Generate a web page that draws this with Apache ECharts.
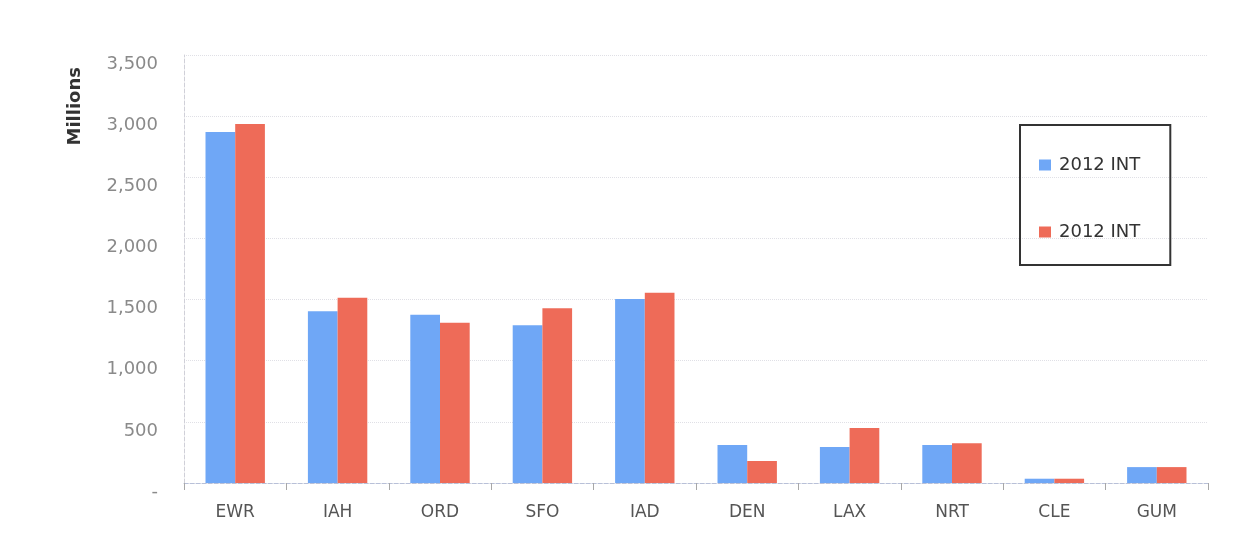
<!DOCTYPE html>
<html>
<head>
<meta charset="utf-8">
<script src="https://cdn.jsdelivr.net/npm/echarts@6/dist/echarts.min.js"></script>
<style>
  html, body { margin: 0; padding: 0; background: #ffffff; }
  #chart { width: 1254px; height: 546px; }
</style>
</head>
<body>
<div id="chart"></div>
<script>
// Airports on the category axis
const airports = ['EWR', 'IAH', 'ORD', 'SFO', 'IAD', 'DEN', 'LAX', 'NRT', 'CLE', 'GUM'];

// Values in millions
const seriesA = [2870, 1405, 1375, 1290, 1505, 310, 295, 310, 35, 130];
const seriesB = [2935, 1515, 1310, 1430, 1555, 180, 450, 325, 35, 130];

// Legend text (both series carry the same label)
const legendLabels = ['2012 INT', '2012 INT'];

// Value axis ticks
const yTicks = [0, 500, 1000, 1500, 2000, 2500, 3000, 3500];

const chart = echarts.init(document.getElementById('chart'), null, { renderer: 'canvas' });

const fmtTick = v => v === 0 ? '-' : v.toLocaleString('en-US');

chart.setOption({
  animation: false,
  backgroundColor: '#ffffff',
  textStyle: { fontFamily: '"DejaVu Sans", sans-serif' },
  grid: { left: 184, right: 46, top: 55, bottom: 63 },
  legend: {
    orient: 'vertical',
    left: 1020,
    top: 125,
    data: ['a', 'b'],
    formatter: name => legendLabels[name === 'a' ? 0 : 1],
    itemWidth: 12,
    itemHeight: 11,
    itemGap: 49,
    padding: [31, 30, 24, 19],
    borderColor: '#333333',
    borderWidth: 2,
    borderRadius: 0,
    icon: 'rect',
    textStyle: { color: '#333333', fontSize: 18, padding: [0, 0, 0, 3] }
  },
  xAxis: {
    type: 'category',
    data: airports,
    axisLine: { show: true, lineStyle: { color: '#b8c0d8', type: 'dashed', width: 1 } },
    axisTick: { show: true, length: 7, lineStyle: { color: '#a8a8a8' } },
    axisLabel: { color: '#555555', fontSize: 17, margin: 21 },
    splitLine: { show: false }
  },
  yAxis: {
    type: 'value',
    min: 0,
    max: 3500,
    interval: 500,
    name: 'Millions',
    nameLocation: 'end',
    nameRotate: 90,
    nameGap: 0,
    nameTextStyle: {
      color: '#333333', fontSize: 18, fontWeight: 'bold',
      align: 'right', verticalAlign: 'bottom', padding: [0, 12, 100, 0]
    },
    axisLine: { show: true, lineStyle: { color: '#d0d0d8', type: 'dashed' } },
    axisTick: { show: false },
    axisLabel: {
      color: '#8a8a8a', fontSize: 18, margin: 26, verticalAlign: 'top',
      formatter: v => yTicks.includes(v) ? fmtTick(v) : ''
    },
    splitLine: { show: true, lineStyle: { color: '#e0e0e6', type: 'dotted', width: 1 } }
  },
  series: [
    {
      name: 'a', type: 'bar', data: seriesA,
      itemStyle: { color: '#6fa7f6' },
      barGap: '0%', barCategoryGap: '42%'
    },
    {
      name: 'b', type: 'bar', data: seriesB,
      itemStyle: { color: '#ee6b58' },
      barGap: '0%', barCategoryGap: '42%'
    }
  ]
});
</script>
</body>
</html>
